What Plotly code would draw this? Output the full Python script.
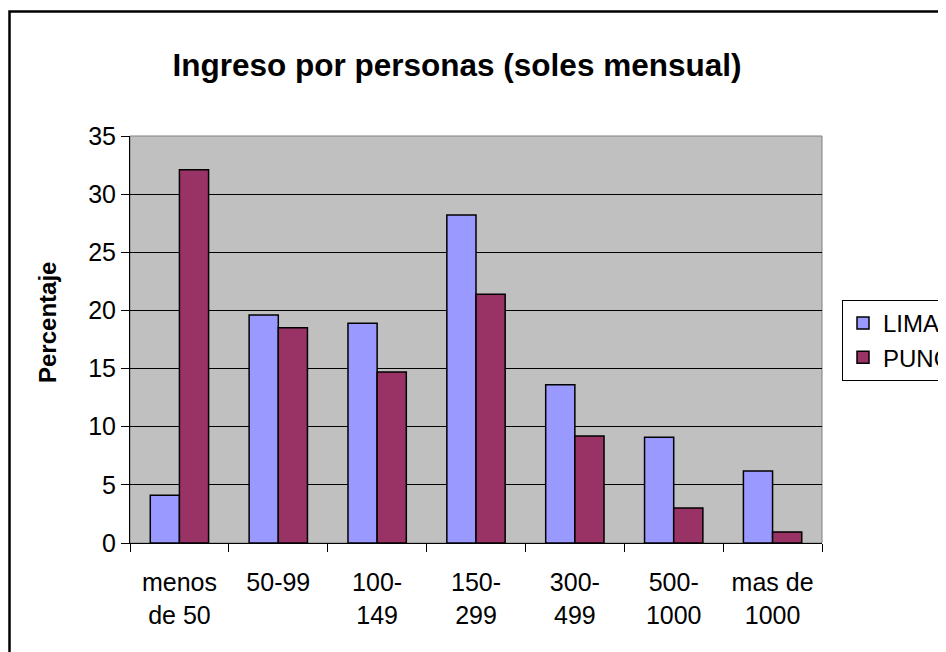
import plotly.graph_objects as go

categories = ["menos<br>de 50", "50-99", "100-<br>149", "150-<br>299", "300-<br>499", "500-<br>1000", "mas de<br>1000"]
lima = [4.1, 19.6, 18.9, 28.2, 13.6, 9.1, 6.2]
puno = [32.1, 18.5, 14.7, 21.4, 9.2, 3.0, 0.95]
series_names = ["LIMA", "PUNO"]
y_ticks = [0, 5, 10, 15, 20, 25, 30, 35]

W, H = 946, 652
OFF = 8  # page body margin
# plot area in page pixels: x 130..822, y 136..543
L, T = 130 - OFF, 136 - OFF
R, B = W - (822 - OFF), H - (543 - OFF)
pw, ph = W - L - R, H - T - B

def px_x(x):
    return (x - OFF - L) / pw

def px_y(y):
    return (H - B - (y - OFF)) / ph

FONT = "Liberation Sans, Arial, sans-serif"

fig = go.Figure()
fig.add_trace(go.Bar(x=categories, y=lima, name=series_names[0],
                     marker=dict(color="#9999FF", line=dict(color="black", width=1.5))))
fig.add_trace(go.Bar(x=categories, y=puno, name=series_names[1],
                     marker=dict(color="#993366", line=dict(color="black", width=1.5))))

fig.update_layout(
    width=W, height=H,
    margin=dict(l=L, r=R, t=T, b=B, autoexpand=False),
    paper_bgcolor="white",
    plot_bgcolor="#C0C0C0",
    barmode="group",
    bargap=0.41,
    bargroupgap=0,
    font=dict(family=FONT, size=25, color="black"),
    title=dict(text="<b>Ingreso por personas (soles mensual)</b>",
               font=dict(family=FONT, size=31.5, color="black"),
               xref="paper", x=px_x(457), xanchor="center",
               yref="container", y=1 - (65 - OFF) / H, yanchor="middle"),
    showlegend=True,
    legend=dict(x=px_x(842), xanchor="left", y=px_y(300), yanchor="top",
                bgcolor="white", bordercolor="black", borderwidth=1,
                font=dict(family=FONT, size=24, color="black"),
                tracegroupgap=0, itemwidth=30),
    xaxis=dict(type="category", showgrid=False, showline=True, linecolor="black", linewidth=1,
               ticks="outside", tickson="boundaries", ticklen=8, tickcolor="black", tickwidth=1,
               tickfont=dict(family=FONT, size=25, color="black"), ticklabelstandoff=17,
               fixedrange=True),
    yaxis=dict(range=[0, 35], tickvals=y_ticks, showgrid=True, gridcolor="black", gridwidth=1,
               showline=True, linecolor="black", linewidth=1, zeroline=False,
               ticks="outside", ticklen=8, tickcolor="black", tickwidth=1,
               tickfont=dict(family=FONT, size=25, color="black"), ticklabelstandoff=0),
)

# plot area border (gray)
fig.add_shape(type="rect", xref="paper", yref="paper", x0=0, x1=1, y0=0, y1=1,
              line=dict(color="#808080", width=1), layer="below")

# outer chart frame
fig.add_shape(type="rect", xref="paper", yref="paper",
              x0=px_x(9.5), x1=px_x(970), y0=px_y(680), y1=px_y(11.5),
              line=dict(color="black", width=2.5))

fig.add_annotation(text="<b>Percentaje</b>", textangle=-90, xref="paper", yref="paper",
                   x=px_x(47), y=px_y(323), xanchor="center", yanchor="middle",
                   showarrow=False, font=dict(family=FONT, size=24, color="black"))

fig.write_html("out.html")
